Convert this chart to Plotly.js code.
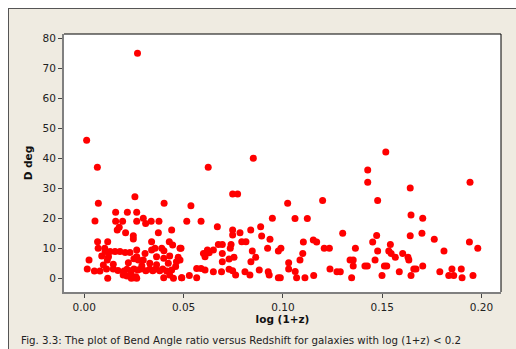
<!DOCTYPE html>
<html>
<head>
<meta charset="utf-8">
<script src="https://cdn.plot.ly/plotly-3.0.1.min.js"></script>
<style>
  html, body { margin: 0; padding: 0; background: #ffffff; }
  #frame {
    position: absolute; left: 8px; top: 8px; width: 508px; height: 341px;
    background: #EFEBE1; border-left: 1px solid #555; border-top: 1px solid #555;
    box-sizing: border-box;
  }
  #chart { position: absolute; left: 0; top: 0; width: 516px; height: 349px; }
</style>
</head>
<body>
<div id="frame"></div>
<div id="chart"></div>
<script>
// log(1+z) for each galaxy
const logOnePlusZ = [
  0.0012, 0.0066, 0.0268, 0.0624, 0.0851, 0.1518, 0.1427, 0.1427, 0.1942,
  0.0255, 0.0071, 0.0402, 0.0158, 0.0217, 0.0264,
  0.0297, 0.0054, 0.0158, 0.0193, 0.0264, 0.0337, 0.0376,
  0.0309, 0.0176, 0.0166, 0.0440, 0.0208, 0.0373, 0.0247, 0.0247,
  0.0067, 0.0118, 0.0339, 0.0428, 0.0445,
  0.0070, 0.0103, 0.0390, 0.0482, 0.0356, 0.0264, 0.0339,
  0.0105, 0.0130, 0.0155, 0.0180, 0.0206, 0.0230, 0.0306, 0.0401,
  0.0088, 0.0122, 0.0264, 0.0364, 0.0430, 0.0473,
  0.0024, 0.0116, 0.0272, 0.0297, 0.0482, 0.0400, 0.0250,
  0.0096, 0.0146, 0.0222, 0.0423, 0.0464, 0.0364, 0.0290, 0.0330,
  0.0015, 0.0051, 0.0079, 0.0112, 0.0146, 0.0170, 0.0200, 0.0215, 0.0235, 0.0250,
  0.0270, 0.0285, 0.0310, 0.0330, 0.0345, 0.0360, 0.0380, 0.0395, 0.0415, 0.0440, 0.0460,
  0.0196, 0.0215, 0.0235, 0.0260, 0.0430,
  0.0118, 0.0237, 0.0250, 0.0264, 0.0400, 0.0449, 0.0491,
  0.0747, 0.0772, 0.0537, 0.0516, 0.0588, 0.0670, 0.0747, 0.0747, 0.0784, 0.0838,
  0.0888, 0.0947, 0.0893, 0.0935, 0.0793, 0.0814, 0.0675, 0.0695, 0.0739,
  0.0487, 0.0650, 0.0735, 0.0846, 0.0923, 0.0977, 0.0629, 0.0695, 0.0608,
  0.0754, 0.0729, 0.0863, 0.0695, 0.0839, 0.0566, 0.0588, 0.0608, 0.0650,
  0.0691, 0.0729, 0.0747, 0.0762, 0.0809, 0.0834, 0.0881, 0.0926, 0.0931,
  0.0490, 0.0529, 0.0566, 0.0977, 0.0600, 0.0620,
  0.1024, 0.1200, 0.1477, 0.1061, 0.1123, 0.1301, 0.1472, 0.1452, 0.1103,
  0.1153, 0.1170, 0.0990, 0.1100, 0.1208, 0.1234, 0.1365, 0.1477, 0.1338,
  0.1354, 0.1464, 0.1086, 0.1029, 0.1354, 0.1413, 0.1425, 0.1029, 0.1062,
  0.1237, 0.1272, 0.1289, 0.1511, 0.1155, 0.0987, 0.1069, 0.1111, 0.1346, 0.1499,
  0.1641, 0.1645, 0.1704, 0.1641, 0.1700, 0.1762, 0.1939, 0.1981, 0.1811,
  0.1541, 0.1533, 0.1545, 0.1603, 0.1630, 0.1634, 0.1566, 0.1523, 0.1586,
  0.1659, 0.1670, 0.1704, 0.1645, 0.1790, 0.1851, 0.1898, 0.1835, 0.1860,
  0.1902, 0.1957
];

// bend angle D in degrees, same order as logOnePlusZ
const bendAngleDeg = [
  46, 37, 75, 37, 40, 42.1, 36.1, 32, 32,
  27.2, 25, 25, 22, 22, 22,
  20, 19.1, 19, 19, 19, 19, 19,
  18.3, 17, 16.1, 16.1, 15.2, 15.2, 14.2, 13.1,
  12.2, 12.2, 12.2, 12.2, 11.1,
  10, 10, 10, 10, 10, 9.4, 9.4,
  8.9, 8.9, 8.9, 8.9, 8.6, 8.6, 8.3, 9.2,
  7.4, 7.2, 7.2, 7.2, 7.4, 7,
  6.1, 6.1, 6.1, 6.1, 6.1, 6.7, 6.5,
  4.4, 4.7, 5.2, 5, 5.5, 4.5, 4.2, 5,
  3.1, 2.4, 2.4, 3.1, 3.1, 2.6, 2.4, 3, 2.5, 3.1,
  2.8, 3.1, 2.5, 3.1, 2.5, 3.1, 2.5, 3.1, 2.4, 2.8, 3.9,
  1.1, 0.8, 1.3, 0.5, 1.1,
  0, 0, 0.2, 0, 0.2, 0, 0.2,
  28.1, 28.1, 24.2, 19, 19, 17.2, 16.1, 14.4, 15.2, 16.1,
  17.2, 20, 14.1, 13, 12.2, 12.2, 11.3, 11.3, 11.3,
  10, 9.4, 10, 9.1, 10, 9.1, 8.5, 8.3, 7.2,
  7, 6.4, 7, 5.5, 5.5, 3.3, 3.3, 2.8, 2.2,
  2.2, 3, 2.5, 1.1, 2.2, 1.1, 2.8, 2.2, 1.1,
  0.2, 0.9, 0.2, 0.2, 8.3, 9.4,
  25, 25.9, 25.9, 19.9, 19.9, 15, 14.3, 12.1, 12.1,
  12.8, 12.1, 10, 8.3, 10, 10, 10, 9.1, 6.1,
  6.1, 6.1, 6.1, 5.2, 4.1, 4.1, 4.1, 3.1, 2.3,
  3.1, 2.2, 2.2, 4.1, 0.9, 0.2, 0.2, 0.2, 0.2, 0.9,
  30.1, 21.1, 20, 14.2, 15, 13, 12.1, 10, 9.1,
  11.3, 9.1, 8.3, 8.3, 7, 6.1, 7, 4.1, 2.2,
  3.1, 3.1, 4.1, 0.9, 2.2, 3.1, 3.1, 0.9, 0.9,
  0.2, 0.9
];

const xTickVals = [0, 0.05, 0.10, 0.15, 0.20];
const xTickText = ['0.00', '0.05', '0.10', '0.15', '0.20'];
const yTickVals = [0, 10, 20, 30, 40, 50, 60, 70, 80];

const captionText = 'Fig. 3.3: The plot of Bend Angle ratio versus Redshift for galaxies with log (1+z) < 0.2';

const trace = {
  type: 'scatter',
  mode: 'markers',
  x: logOnePlusZ,
  y: bendAngleDeg,
  marker: { color: '#FF0000', size: 7, line: { width: 0 } },
  hoverinfo: 'x+y'
};

const axisFont = { family: 'DejaVu Sans', size: 10.5, color: '#222' };

const layout = {
  width: 516,
  height: 349,
  margin: { l: 64, r: 15, t: 34, b: 57, pad: 0 },
  paper_bgcolor: 'rgba(0,0,0,0)',
  plot_bgcolor: '#ffffff',
  showlegend: false,
  font: axisFont,
  xaxis: {
    range: [-0.0102, 0.2098],
    tickvals: xTickVals,
    ticktext: xTickText,
    ticks: 'outside',
    ticklen: 4,
    tickwidth: 1,
    tickcolor: '#444',
    showgrid: false,
    zeroline: false,
    showline: true,
    linecolor: '#808080',
    linewidth: 2,
    tickfont: axisFont,
    title: { text: 'log (1+z)', font: { family: 'DejaVu Sans', size: 10.5, weight: 700, color: '#111' }, standoff: 4 }
  },
  yaxis: {
    range: [-4.57, 81.43],
    tickvals: yTickVals,
    ticks: 'outside',
    ticklen: 4,
    tickwidth: 1,
    tickcolor: '#444',
    showgrid: false,
    zeroline: false,
    showline: true,
    linecolor: '#808080',
    linewidth: 2,
    tickfont: axisFont,
    title: { text: 'D deg', font: { family: 'DejaVu Sans', size: 10.5, weight: 700, color: '#111' }, standoff: 8 }
  },
  shapes: [
    { type: 'line', xref: 'paper', yref: 'paper', x0: 0, x1: 1, y0: 1, y1: 1, line: { color: '#000', width: 1 } },
    { type: 'line', xref: 'paper', yref: 'paper', x0: 1, x1: 1, y0: 0, y1: 1, line: { color: '#000', width: 1 } }
  ],
  annotations: [
    {
      text: captionText,
      xref: 'paper', yref: 'paper',
      x: -0.103, y: -0.186,
      xanchor: 'left', yanchor: 'middle',
      showarrow: false,
      font: { family: 'DejaVu Sans', size: 10.25, color: '#222' }
    }
  ]
};

Plotly.newPlot('chart', [trace], layout, { displayModeBar: false, staticPlot: true });
</script>
</body>
</html>
